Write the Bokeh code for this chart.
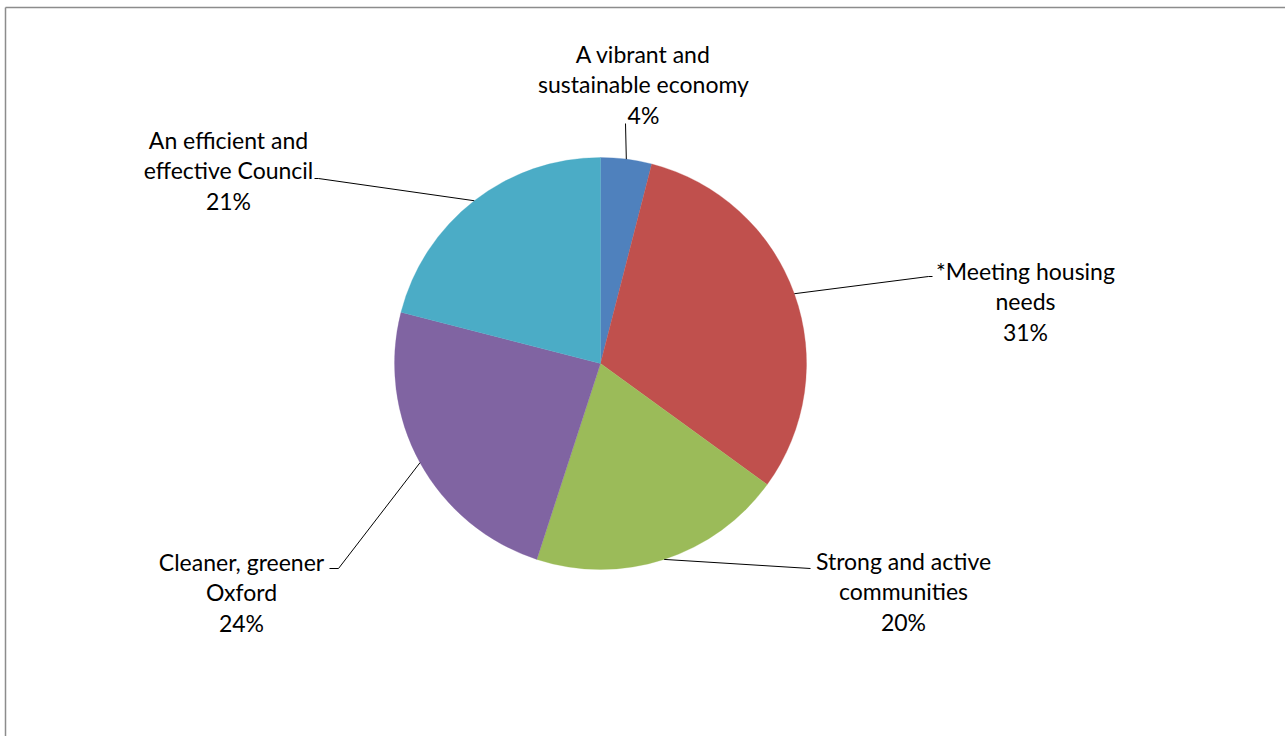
import math
from bokeh.plotting import figure
from bokeh.models import Range1d, ColumnDataSource
from bokeh.core.properties import value
from bokeh.embed import file_html
from bokeh.resources import INLINE

# ---- data ----
categories = ["A vibrant and sustainable economy", "*Meeting housing needs",
              "Strong and active communities", "Cleaner, greener Oxford",
              "An efficient and effective Council"]
label_line1 = ["A vibrant and", "*Meeting housing", "Strong and active", "Cleaner, greener", "An efficient and"]
label_line2 = ["sustainable economy", "needs", "communities", "Oxford", "effective Council"]
shares = [4, 31, 20, 24, 21]
colors = ["#4F81BD", "#C0504D", "#9BBB59", "#8064A2", "#4BACC6"]

# ---- layout (page pixel coordinates) ----
W, H = 1285, 736
def py(y):  # page y -> data y
    return H - y

cx, cy, R = 600, 363, 206
label_x = [643, 1025, 903, 241, 228]
label_y0 = [53, 270, 560, 561, 139]
line_gap = 30.8
elbows = [[(625, 123)], [(928, 276), (932, 276)], [(810, 568)], [(338, 568), (329, 568)], [(318, 178), (314, 178)]]

p = figure(width=W, height=H, output_backend="svg", toolbar_location=None,
           x_range=Range1d(0, W), y_range=Range1d(0, H),
           min_border=0, outline_line_color=None)
p.axis.visible = False
p.grid.visible = False
p.background_fill_color = "white"
p.border_fill_color = "white"

# frame
p.line([5, 5], [py(760), py(7)], line_color="#8c8c8c", line_width=1.5)
p.line([5, W + 10], [py(7), py(7)], line_color="#8c8c8c", line_width=1.5)

total = float(sum(shares))
starts, ends, mids = [], [], []
cum = 0.0
for v in shares:
    a0 = math.pi / 2 - 2 * math.pi * cum / total
    cum += v
    a1 = math.pi / 2 - 2 * math.pi * cum / total
    starts.append(a0)
    ends.append(a1)
    mids.append((a0 + a1) / 2)

src = ColumnDataSource(dict(x=[cx] * len(shares), y=[py(cy)] * len(shares),
                            start=starts, end=ends, color=colors, name=categories))
p.wedge(x="x", y="y", radius=R, start_angle="start", end_angle="end", direction="clock",
        fill_color="color", line_color="color", line_width=0.3, source=src)

# leader lines
for m, el in zip(mids, elbows):
    xs = [cx + R * math.cos(m)] + [e[0] for e in el]
    ys = [py(cy) + R * math.sin(m)] + [py(e[1]) for e in el]
    p.line(xs, ys, line_color="black", line_width=1)

# labels
tx, ty, tt = [], [], []
for i, v in enumerate(shares):
    lines = [label_line1[i], label_line2[i], f"{v}%"]
    for k, s in enumerate(lines):
        tx.append(label_x[i])
        ty.append(py(label_y0[i] + k * line_gap))
        tt.append(s)
p.text(x=tx, y=ty, text=tt, text_align="center", text_baseline="middle",
       text_font=value("Lato"), text_font_size="23px", text_color="black")

open("out.html", "w").write(file_html(p, INLINE))
